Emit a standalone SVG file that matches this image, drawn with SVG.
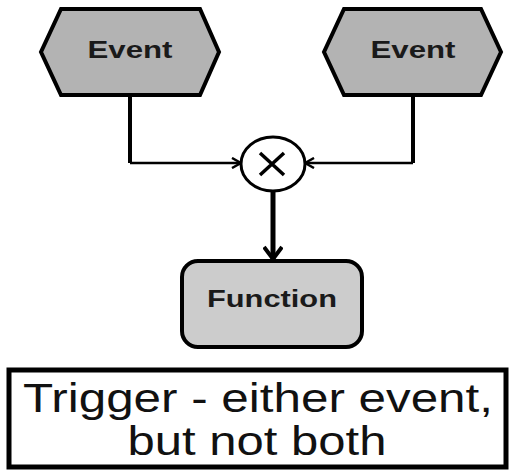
<svg xmlns="http://www.w3.org/2000/svg" width="511" height="470" viewBox="0 0 511 470">
  <style>
    .event { fill: #b3b3b3; stroke: #000; stroke-width: 4; stroke-linejoin: miter; }
    .func { fill: #cccccc; stroke: #000; stroke-width: 4; }
    .gate { fill: #fff; stroke: #000; stroke-width: 3; }
    .lbl { font-family: "Liberation Sans", Arial, sans-serif; font-weight: bold; font-size: 24px; fill: #1a1a1a; text-anchor: middle; }
    .note { font-family: "Liberation Sans", Arial, sans-serif; font-size: 40px; fill: #111; text-anchor: middle; }
    .wire { fill: none; stroke: #000; stroke-linejoin: miter; }
  </style>
  <defs>
    <marker id="open" viewBox="0 0 12 12" refX="11" refY="6" markerWidth="12" markerHeight="12" markerUnits="userSpaceOnUse" orient="auto">
      <path d="M2,1 L11,6 L2,11" fill="none" stroke="#000" stroke-width="2.5"/>
    </marker>
    <marker id="openBig" viewBox="0 0 30 20" refX="28" refY="10" markerWidth="30" markerHeight="20" markerUnits="userSpaceOnUse" orient="auto">
      <path d="M16,1 L28,10 L16,19" fill="none" stroke="#000" stroke-width="4"/>
    </marker>
  </defs>

  <g id="connectors">
    <path class="wire" d="M130,95 V163" stroke-width="4"/>
    <path class="wire" d="M130,163 H241" stroke-width="2.5" marker-end="url(#open)"/>
    <path class="wire" d="M413,95 V163" stroke-width="4"/>
    <path class="wire" d="M413,163 H305" stroke-width="2.5" marker-end="url(#open)"/>
    <path class="wire" d="M273,191 V259" stroke-width="5" marker-end="url(#openBig)"/>
  </g>

  <g id="event-left">
    <polygon class="event" points="61,9 200,9 219,52 200,95 61,95 41,52"/>
    <text class="lbl" x="130" y="58" textLength="85" lengthAdjust="spacingAndGlyphs">Event</text>
  </g>

  <g id="event-right">
    <polygon class="event" points="344,9 481,9 501,52 481,95 344,95 324,52"/>
    <text class="lbl" x="413" y="58" textLength="85" lengthAdjust="spacingAndGlyphs">Event</text>
  </g>

  <g id="xor">
    <ellipse class="gate" cx="273" cy="164" rx="32" ry="27"/>
    <path d="M260,153 L284,175 M284,153 L260,175" stroke="#000" stroke-width="3.5" fill="none"/>
  </g>

  <g id="function">
    <rect class="func" x="182" y="261" width="180" height="86" rx="16" ry="16"/>
    <text class="lbl" x="272" y="307" textLength="130" lengthAdjust="spacingAndGlyphs">Function</text>
  </g>

  <g id="note">
    <rect x="9" y="370" width="497" height="97" fill="#fff" stroke="#000" stroke-width="5"/>
    <text class="note" x="258" y="412" textLength="470" lengthAdjust="spacingAndGlyphs">Trigger - either event,</text>
    <text class="note" x="257" y="455" textLength="259" lengthAdjust="spacingAndGlyphs">but not both</text>
  </g>
</svg>
